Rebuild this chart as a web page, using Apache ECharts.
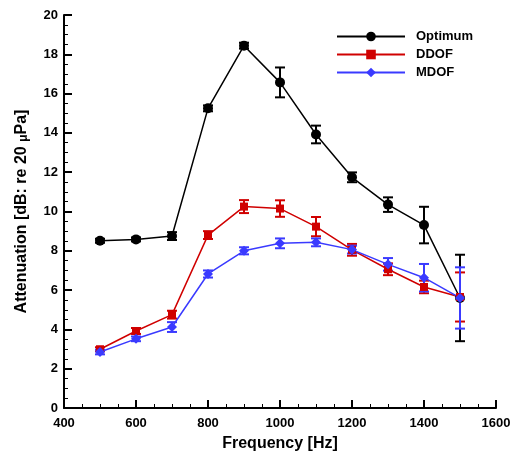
<!DOCTYPE html>
<html><head><meta charset="utf-8">
<script src="https://cdn.jsdelivr.net/npm/echarts@6/dist/echarts.min.js"></script>
<style>html,body{margin:0;padding:0;background:#fff}#c{width:517px;height:453px}</style>
</head><body><div id="c"></div>
<script>
const freq = [500, 600, 700, 800, 900, 1000, 1100, 1200, 1300, 1400, 1500];
const optimum = [8.51, 8.58, 8.75, 15.25, 18.44, 16.57, 13.92, 11.74, 10.35, 9.31, 5.6];
const optimumErr = [0.1, 0.1, 0.2, 0.15, 0.15, 0.76, 0.45, 0.25, 0.37, 0.93, 2.2];
const ddof = [2.99, 3.92, 4.75, 8.8, 10.25, 10.15, 9.23, 8.05, 7.06, 6.16, 5.65];
const ddofErr = [0.1, 0.15, 0.2, 0.2, 0.33, 0.42, 0.49, 0.3, 0.3, 0.32, 1.25];
const mdof = [2.85, 3.52, 4.12, 6.82, 8.0, 8.38, 8.43, 8.06, 7.31, 6.63, 5.6];
const mdofErr = [0.12, 0.12, 0.25, 0.18, 0.18, 0.25, 0.2, 0.2, 0.32, 0.7, 1.56];
const seriesNames = ['Optimum', 'DDOF', 'MDOF'];
const colors = ['#000000', '#d00000', '#3a3aff'];

const FONT = '"Liberation Sans", Arial, sans-serif';
const chart = echarts.init(document.getElementById('c'));

function errSeries(name, vals, errs, color) {
  return {
    type: 'custom', name: name + ' err', z: 3,
    data: freq.map((f, i) => [f, vals[i] - errs[i], vals[i] + errs[i]]),
    renderItem: function (params, api) {
      const x = api.value(0);
      const lo = api.coord([x, api.value(1)]);
      const hi = api.coord([x, api.value(2)]);
      const w = 5;
      const st = { stroke: color, lineWidth: 2 };
      return { type: 'group', children: [
        { type: 'line', shape: { x1: lo[0], y1: lo[1], x2: hi[0], y2: hi[1] }, style: st },
        { type: 'line', shape: { x1: lo[0] - w, y1: lo[1], x2: lo[0] + w, y2: lo[1] }, style: st },
        { type: 'line', shape: { x1: hi[0] - w, y1: hi[1], x2: hi[0] + w, y2: hi[1] }, style: st }
      ]};
    }
  };
}
function lineSeries(name, vals, color, symbol, size) {
  return {
    type: 'line', name: name, z: 4,
    data: freq.map((f, i) => [f, vals[i]]),
    symbol: symbol, symbolSize: size, showAllSymbol: true,
    lineStyle: { color: color, width: 1.5 },
    itemStyle: { color: color },
    emphasis: { disabled: true }
  };
}

const axisCommon = {
  axisLine: { show: true, onZero: false, lineStyle: { color: '#000', width: 2 } },
  axisTick: { show: true, inside: true, length: 8, lineStyle: { color: '#000', width: 2 } },
  minorTick: { show: true, splitNumber: 4, length: 4, lineStyle: { color: '#000', width: 1 } },
  splitLine: { show: false },
  axisLabel: { color: '#000', fontFamily: FONT, fontWeight: 'bold', fontSize: 13 }
};

chart.setOption({
  animation: false,
  grid: { left: 64, right: 21, top: 15, bottom: 45, containLabel: false, outerBoundsMode: 'none' },
  legend: {
    data: seriesNames, orient: 'vertical', left: 331, top: 25, itemGap: 5,
    itemWidth: 68, itemHeight: 12,
    textStyle: { color: '#000', fontFamily: FONT, fontWeight: 'bold', fontSize: 13, padding: [0, 0, 0, 6] }
  },
  xAxis: Object.assign({}, axisCommon, {
    type: 'value', min: 400, max: 1600, interval: 200,
    axisLabel: Object.assign({}, axisCommon.axisLabel, { margin: 9, formatter: v => String(v) }),
    name: 'Frequency [Hz]', nameLocation: 'middle', nameGap: 28,
    nameTextStyle: { color: '#000', fontFamily: FONT, fontWeight: 'bold', fontSize: 16 }
  }),
  yAxis: Object.assign({}, axisCommon, {
    type: 'value', min: 0, max: 20, interval: 2,
    axisLabel: Object.assign({}, axisCommon.axisLabel, { margin: 6 }),
    name: '{a|Attenuation [dB: re 20 }{b|μ}{a|Pa]}', nameLocation: 'middle', nameGap: 34,
    nameTextStyle: {
      rich: {
        a: { color: '#000', fontFamily: FONT, fontWeight: 'bold', fontSize: 16 },
        b: { color: '#000', fontFamily: FONT, fontWeight: 'bold', fontSize: 12, padding: [4, 0, 0, 0] }
      }
    }
  }),
  series: [
    errSeries('Optimum', optimum, optimumErr, colors[0]),
    errSeries('DDOF', ddof, ddofErr, colors[1]),
    errSeries('MDOF', mdof, mdofErr, colors[2]),
    lineSeries('Optimum', optimum, colors[0], 'circle', 10),
    lineSeries('DDOF', ddof, colors[1], 'rect', 8),
    lineSeries('MDOF', mdof, colors[2], 'diamond', 10)
  ]
});
</script></body></html>
